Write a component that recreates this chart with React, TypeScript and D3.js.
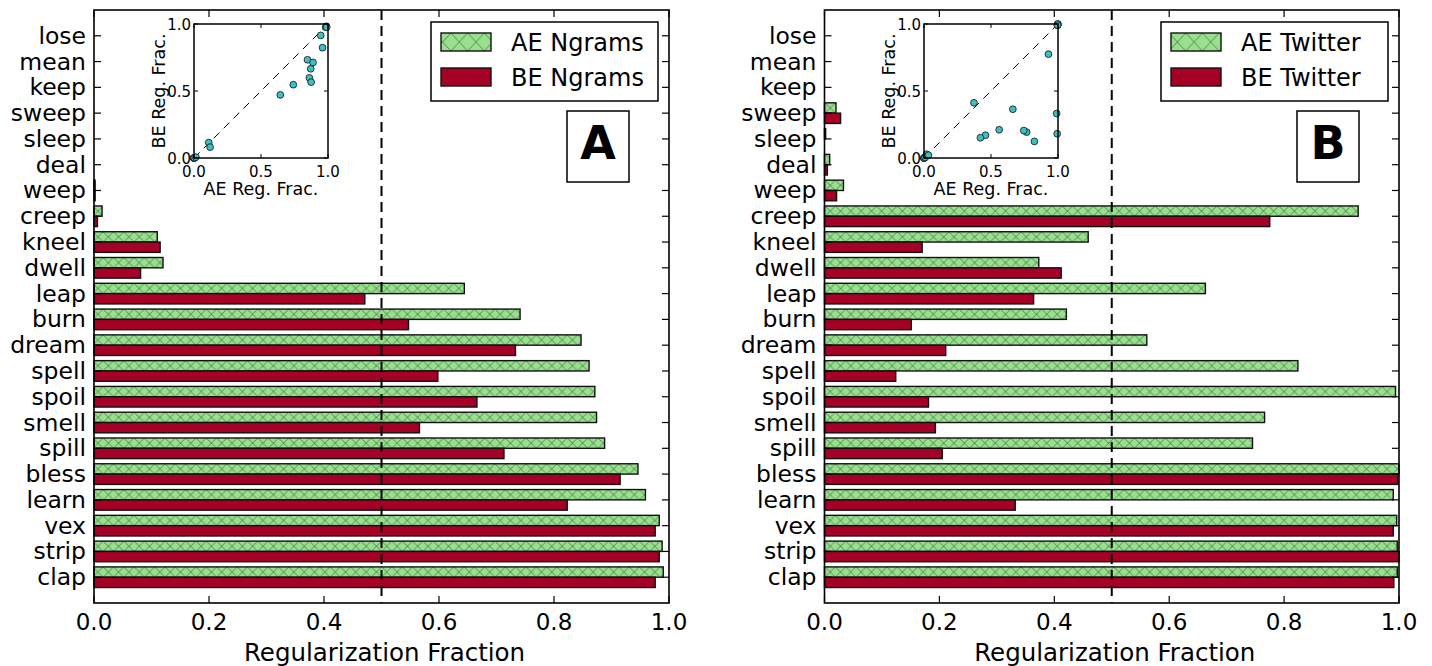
import React from "react";
import * as d3 from "d3";

const categories = ["lose","mean","keep","sweep","sleep","deal","weep","creep","kneel","dwell","leap","burn","dream","spell","spoil","smell","spill","bless","learn","vex","strip","clap"];

const ngramsAE = [0,0,0,0,0,0,0.002,0.014,0.110,0.120,0.644,0.741,0.847,0.861,0.871,0.874,0.888,0.946,0.959,0.983,0.988,0.990];
const ngramsBE = [0,0,0,0,0,0,0.002,0.006,0.115,0.081,0.471,0.547,0.733,0.598,0.666,0.566,0.713,0.915,0.823,0.976,0.983,0.976];
const twitterAE = [0,0,0,0.020,0.002,0.009,0.033,0.929,0.459,0.373,0.663,0.421,0.561,0.824,0.994,0.766,0.745,1.0,0.990,0.996,0.997,0.997];
const twitterBE = [0,0,0,0.028,0,0.005,0.021,0.775,0.170,0.412,0.364,0.151,0.211,0.124,0.181,0.193,0.205,0.998,0.332,0.990,1.0,0.991];

const xTicks = [0, 0.2, 0.4, 0.6, 0.8, 1.0];
const insetTicks = [0, 0.5, 1.0];

const panels = [
  { key: "A", ae: ngramsAE, be: ngramsBE, aeLabel: "AE Ngrams", beLabel: "BE Ngrams", x0: 94, x1: 669 },
  { key: "B", ae: twitterAE, be: twitterBE, aeLabel: "AE Twitter", beLabel: "BE Twitter", x0: 824.5, x1: 1399 },
];

const GREEN = "#98e08e";
const RED = "#a50026";
const TEAL = "#3fbfbf";
const FONT = "DejaVu Sans";

const TOP = 10, BOTTOM = 603;
const y = d3.scaleLinear().domain([0, categories.length + 1]).range([TOP, BOTTOM]);
const BAR_H = 0.4;

function Panel({ p }: { p: typeof panels[number] }) {
  const x = d3.scaleLinear().domain([0, 1]).range([p.x0, p.x1]);
  const tick = 7;
  const legX = p.x1 - 238;
  const ix0 = p.key === "A" ? 194 : 924;
  const ix = d3.scaleLinear().domain([0, 1]).range([ix0, ix0 + 134]);
  const iy = d3.scaleLinear().domain([0, 1]).range([158, 24]);
  const pts = categories.map((c, i) => ({ c, a: p.ae[i], b: p.be[i] }));
  return (
    <g>
      {categories.map((c, i) => {
        const pos = i + 1;
        return (
          <g key={c}>
            <rect x={x(0)} y={y(pos - BAR_H)} width={x(p.ae[i]) - x(0)} height={y(pos) - y(pos - BAR_H)}
              fill={GREEN} stroke="none" />
            <rect x={x(0)} y={y(pos - BAR_H)} width={x(p.ae[i]) - x(0)} height={y(pos) - y(pos - BAR_H)}
              fill="url(#hatch)" stroke="#111" strokeWidth={1.4} />
            <rect x={x(0)} y={y(pos)} width={x(p.be[i]) - x(0)} height={y(pos + BAR_H) - y(pos)}
              fill={RED} stroke="#111" strokeWidth={1.4} />
          </g>
        );
      })}
      <line x1={x(0.5)} x2={x(0.5)} y1={TOP} y2={BOTTOM} stroke="#000" strokeWidth={2} strokeDasharray="10,6" />
      <rect x={x(0)} y={TOP} width={x(1) - x(0)} height={BOTTOM - TOP} fill="none" stroke="#000" strokeWidth={1.6} />
      {xTicks.map((t) => (
        <g key={t}>
          <line x1={x(t)} x2={x(t)} y1={BOTTOM} y2={BOTTOM - tick} stroke="#000" strokeWidth={1.2} />
          <line x1={x(t)} x2={x(t)} y1={TOP} y2={TOP + tick} stroke="#000" strokeWidth={1.2} />
          <text x={x(t)} y={630} textAnchor="middle" fontSize={23} fontFamily={FONT}>{t.toFixed(1)}</text>
        </g>
      ))}
      <text x={(x(0) + x(1)) / 2 + 3} y={661} textAnchor="middle" fontSize={24.5} fontFamily={FONT}>Regularization Fraction</text>
      {categories.map((c, i) => (
        <g key={c}>
          <line x1={x(0)} x2={x(0) + tick} y1={y(i + 1)} y2={y(i + 1)} stroke="#000" strokeWidth={1.2} />
          <line x1={x(1)} x2={x(1) - tick} y1={y(i + 1)} y2={y(i + 1)} stroke="#000" strokeWidth={1.2} />
          <text x={x(0) - 8} y={y(i + 1) + 8} textAnchor="end" fontSize={23.5} fontFamily={FONT}>{c}</text>
        </g>
      ))}
      <rect x={legX} y={22} width={227} height={79} fill="#fff" stroke="#000" strokeWidth={1.5} />
      <rect x={legX + 10} y={33} width={50} height={18} fill={GREEN} />
      <rect x={legX + 10} y={33} width={50} height={18} fill="url(#hatchLeg)" stroke="#111" strokeWidth={1.4} />
      <rect x={legX + 10} y={68} width={50} height={18} fill={RED} stroke="#111" strokeWidth={1.4} />
      <text x={legX + 80} y={50.5} fontSize={24} fontFamily={FONT}>{p.aeLabel}</text>
      <text x={legX + 80} y={85.5} fontSize={24} fontFamily={FONT}>{p.beLabel}</text>
      <rect x={p.x1 - 102} y={111} width={62} height={71} fill="#fff" stroke="#000" strokeWidth={1.5} />
      <text x={p.x1 - 71} y={159} textAnchor="middle" fontSize={46} fontWeight="bold" fontFamily={FONT}>{p.key}</text>
      <rect x={ix(0)} y={iy(1)} width={ix(1) - ix(0)} height={iy(0) - iy(1)} fill="#fff" stroke="none" />
      <line x1={ix(0)} y1={iy(0)} x2={ix(1)} y2={iy(1)} stroke="#000" strokeWidth={1} strokeDasharray="8,6" />
      {pts.map((d) => (
        <circle key={d.c} cx={ix(d.a)} cy={iy(d.b)} r={3.4} fill={TEAL} stroke="#111" strokeWidth={0.8} />
      ))}
      <rect x={ix(0)} y={iy(1)} width={ix(1) - ix(0)} height={iy(0) - iy(1)} fill="none" stroke="#000" strokeWidth={1.5} />
      {insetTicks.map((t) => (
        <g key={t}>
          <line x1={ix(t)} x2={ix(t)} y1={iy(0)} y2={iy(0) - 4} stroke="#000" />
          <line x1={ix(t)} x2={ix(t)} y1={iy(1)} y2={iy(1) + 4} stroke="#000" />
          <line x1={ix(0)} x2={ix(0) + 4} y1={iy(t)} y2={iy(t)} stroke="#000" />
          <line x1={ix(1)} x2={ix(1) - 4} y1={iy(t)} y2={iy(t)} stroke="#000" />
          <text x={ix(t)} y={177} textAnchor="middle" fontSize={15} fontFamily={FONT}>{t.toFixed(1)}</text>
          <text x={ix(0) - 3} y={iy(t) + 5.5} textAnchor="end" fontSize={15} fontFamily={FONT}>{t.toFixed(1)}</text>
        </g>
      ))}
      <text x={(ix(0) + ix(1)) / 2} y={195} textAnchor="middle" fontSize={17.5} fontFamily={FONT}>AE Reg. Frac.</text>
      <text transform={`translate(${ix(0) - 29},${(iy(0) + iy(1)) / 2}) rotate(-90)`} textAnchor="middle" fontSize={17.5} fontFamily={FONT}>BE Reg. Frac.</text>
    </g>
  );
}

export default function App() {
  const rowH = y(2) - y(1);
  const hH = y(1) - y(1 - BAR_H);
  return (
    <div style={{ position: "fixed", left: 0, top: 0 }}>
      <svg width={1432} height={666} style={{ display: "block", background: "#fff" }}>
        <defs>
          <pattern id="hatch" patternUnits="userSpaceOnUse" x={0} y={y(1 - BAR_H)} width={hH} height={rowH}>
            <path d={`M0,0L${hH},${hH}M0,${hH}L${hH},0`} stroke="#2f4f2f" strokeOpacity={0.75} strokeWidth={0.8} />
          </pattern>
          <pattern id="hatchLeg" patternUnits="userSpaceOnUse" x={0} y={33} width={16.7} height={18}>
            <path d="M0,0L16.7,18M0,18L16.7,0" stroke="#2f4f2f" strokeOpacity={0.75} strokeWidth={0.8} />
          </pattern>
        </defs>
        {panels.map((p) => (
          <Panel key={p.key} p={p} />
        ))}
      </svg>
    </div>
  );
}
